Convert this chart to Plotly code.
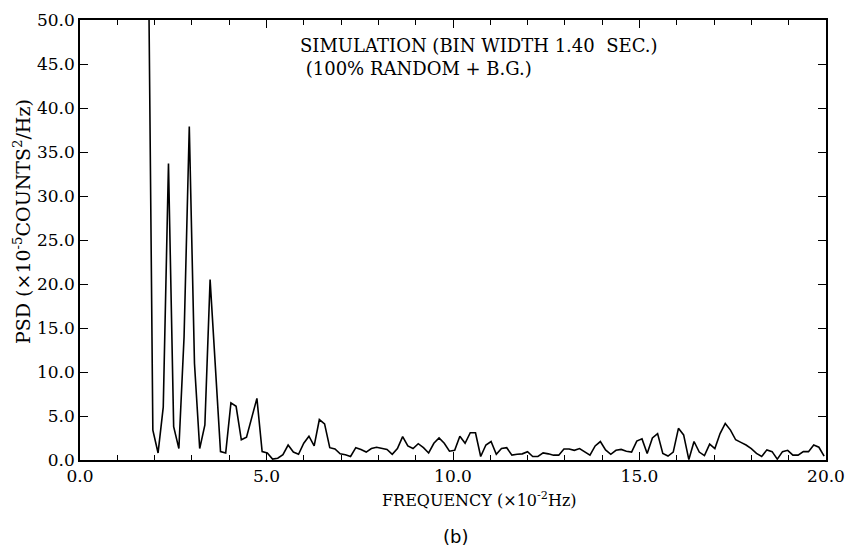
import plotly.graph_objects as go

# Frequency bins (x10^-2 Hz) and PSD values (x10^-5 counts^2/Hz)
FREQ = [1.814, 1.953, 2.093, 2.232, 2.372, 2.511, 2.651, 2.790, 2.930, 3.069,
        3.209, 3.348, 3.488, 3.627, 3.767, 3.906, 4.046, 4.185, 4.325, 4.464,
        4.604, 4.743, 4.883, 5.022, 5.162, 5.301, 5.441, 5.580, 5.720, 5.859,
        5.999, 6.138, 6.278, 6.417, 6.557, 6.696, 6.836, 6.975, 7.115, 7.254,
        7.394, 7.533, 7.673, 7.812, 7.952, 8.092, 8.231, 8.371, 8.510, 8.650,
        8.789, 8.929, 9.068, 9.208, 9.347, 9.487, 9.626, 9.766, 9.905, 10.045,
        10.184, 10.324, 10.463, 10.603, 10.742, 10.882, 11.021, 11.161, 11.300, 11.440,
        11.579, 11.719, 11.858, 11.998, 12.137, 12.277, 12.416, 12.556, 12.695, 12.835,
        12.974, 13.114, 13.253, 13.393, 13.532, 13.672, 13.811, 13.951, 14.090, 14.230,
        14.369, 14.509, 14.648, 14.788, 14.927, 15.067, 15.206, 15.346, 15.485, 15.625,
        15.764, 15.904, 16.044, 16.183, 16.323, 16.462, 16.602, 16.741, 16.881, 17.020,
        17.160, 17.299, 17.439, 17.578, 17.718, 17.857, 17.997, 18.136, 18.276, 18.415,
        18.555, 18.694, 18.834, 18.973, 19.113, 19.252, 19.392, 19.531, 19.671, 19.810,
        19.950]

PSD = [67.0, 3.4, 0.8, 6.0, 33.7, 3.8, 1.3, 14.0, 37.9, 11.0,
       1.3, 4.0, 20.5, 10.2, 0.95, 0.8, 6.5, 6.1, 2.3, 2.6,
       4.9, 7.0, 0.95, 0.8, 0.1, 0.2, 0.6, 1.7, 0.9, 0.65,
       1.9, 2.7, 1.6, 4.6, 4.1, 1.4, 1.25, 0.7, 0.6, 0.4,
       1.4, 1.2, 0.9, 1.3, 1.45, 1.3, 1.2, 0.65, 1.3, 2.65,
       1.6, 1.3, 1.85, 1.4, 0.8, 1.9, 2.5, 1.9, 1.0, 1.1,
       2.7, 1.9, 3.1, 3.1, 0.4, 1.7, 2.1, 0.65, 1.3, 1.4,
       0.55, 0.65, 0.7, 0.95, 0.4, 0.4, 0.8, 0.7, 0.55, 0.55,
       1.25, 1.25, 1.1, 1.3, 0.9, 0.55, 1.6, 2.1, 1.15, 0.65,
       1.1, 1.2, 1.0, 0.9, 2.15, 2.4, 0.75, 2.5, 3.0, 0.75,
       0.45, 0.9, 3.6, 2.85, 0.05, 2.1, 0.9, 0.5, 1.8, 1.3,
       3.0, 4.15, 3.4, 2.3, 2.0, 1.7, 1.3, 0.75, 0.4, 1.15,
       0.95, 0.1, 0.95, 1.1, 0.55, 0.55, 0.95, 0.95, 1.7, 1.45,
       0.45]

X_TICKS = [0, 5, 10, 15, 20]
X_TICK_TEXT = ["0.0", "5.0", "10.0", "15.0", "20.0"]
Y_TICKS = [0, 5, 10, 15, 20, 25, 30, 35, 40, 45, 50]
Y_TICK_TEXT = ["0.0", "5.0", "10.0", "15.0", "20.0", "25.0", "30.0", "35.0", "40.0", "45.0", "50.0"]

SERIF = "DejaVu Serif"

fig = go.Figure()
fig.add_trace(go.Scatter(x=FREQ, y=PSD, mode="lines",
                         line=dict(color="black", width=1.6),
                         showlegend=False, hoverinfo="skip"))

axis_common = dict(
    showgrid=False, zeroline=False, showline=True, linecolor="black", linewidth=1.5,
    mirror="ticks", ticks="inside", tickcolor="black", tickwidth=1.2,
    tickfont=dict(family=SERIF, size=17, color="black"), automargin=False,
)

fig.update_xaxes(range=[0, 20], tickvals=X_TICKS, ticktext=X_TICK_TEXT, ticklen=8,
                 minor=dict(ticks="inside", dtick=1, tick0=0, ticklen=5, tickcolor="black", tickwidth=1.0),
                 **axis_common)
fig.update_yaxes(range=[0, 50], tickvals=Y_TICKS, ticktext=Y_TICK_TEXT, ticklen=8,
                 **axis_common)

fig.update_layout(
    width=845, height=552,
    margin=dict(l=80, r=19, t=20, b=92),
    plot_bgcolor="white", paper_bgcolor="white",
    annotations=[
        dict(text="SIMULATION (BIN WIDTH 1.40  SEC.)<br> (100% RANDOM + B.G.)",
             xref="paper", yref="paper", x=(298 - 80) / 746, y=(460 - 33) / 440,
             xanchor="left", yanchor="top", align="left", showarrow=False,
             font=dict(family=SERIF, size=18, color="black")),
        dict(text="FREQUENCY (×10<sup>-2</sup>Hz)",
             xref="paper", yref="paper", x=(380 - 80) / 746, y=(460 - 499) / 440,
             xanchor="left", yanchor="middle", showarrow=False,
             font=dict(family=SERIF, size=16, color="black")),
        dict(text="PSD (×10<sup>-5</sup>COUNTS<sup>2</sup>/Hz)",
             xref="paper", yref="paper", x=(22 - 80) / 746, y=(460 - 222) / 440,
             xanchor="center", yanchor="middle", textangle=-90, showarrow=False,
             font=dict(family=SERIF, size=19, color="black")),
        dict(text="(b)",
             xref="paper", yref="paper", x=(455 - 80) / 746, y=(460 - 536) / 440,
             xanchor="center", yanchor="middle", showarrow=False,
             font=dict(family="DejaVu Sans", size=18, color="black")),
    ],
)

fig.write_html("out.html")
